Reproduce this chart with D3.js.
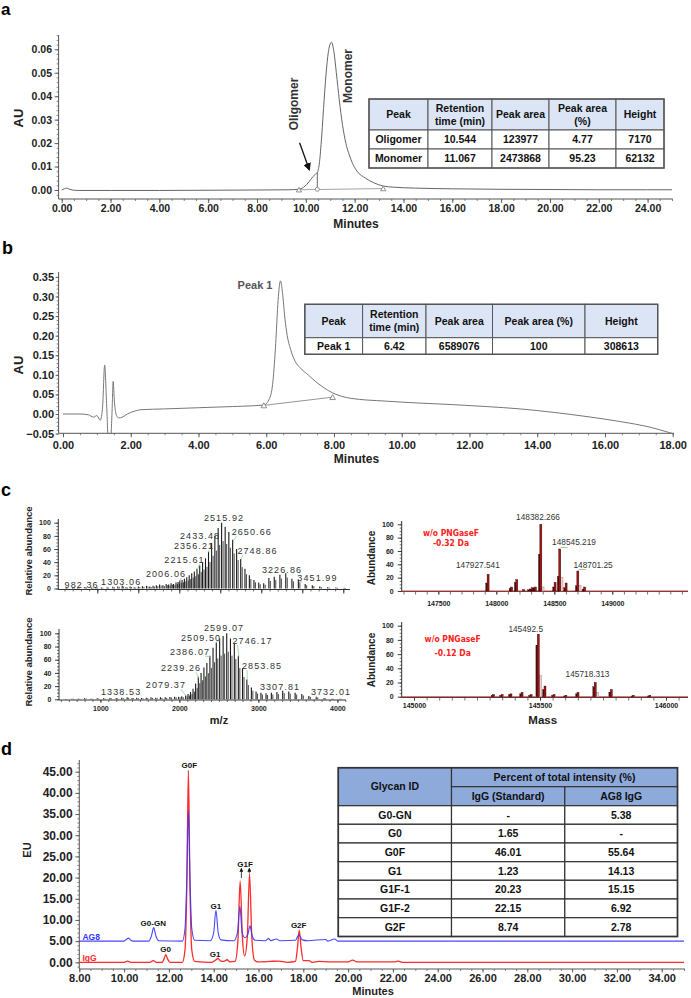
<!DOCTYPE html>
<html><head><meta charset="utf-8">
<script src="https://cdn.jsdelivr.net/npm/d3@7"></script>
<style>body{margin:0;background:#fff}</style>
</head><body><svg id="c" width="691" height="998"></svg>
<script>
// ---------------- DATA ----------------
// Panel a: SEC chromatogram
const aTime = [0,0.1,0.2,0.3,0.45,0.7,2,4,6,8,9.3,9.72,9.9,10.05,10.2,10.3,10.4,10.47,10.55,10.65,10.75,10.85,10.95,11.05,11.15,11.25,11.37,11.5,11.64,11.78,11.91,12.1,12.45,12.8,13.17,13.6,14.5,16,18,20,22,24,25];
const aAU = [0,0.0005,0.0008,0.0004,0,-0.0002,-0.0002,-0.0002,-0.0001,0,0.0001,0.0003,0.0011,0.0025,0.0045,0.0058,0.0068,0.0074,0.0110,0.0230,0.0385,0.0520,0.0605,0.0630,0.0590,0.0500,0.0384,0.0280,0.0199,0.0150,0.0114,0.0080,0.0050,0.0030,0.0017,0.0012,0.0008,0.0005,0.0003,0.0002,0.0001,0.0001,0.0001];
const aMarkTimes = [9.72, 10.47, 13.17];
const aMarkAU = [0.0001, 0.0003, 0.0006];
const aYTicks = [0,0.01,0.02,0.03,0.04,0.05,0.06];
const aXTicks = [0,2,4,6,8,10,12,14,16,18,20,22,24];
const aTableHead = ["Peak","Retention\ntime (min)","Peak area","Peak area\n(%)","Height"];
const aTableRows = [["Oligomer","10.544","123977","4.77","7170"],["Monomer","11.067","2473868","95.23","62132"]];

// Panel b: RP chromatogram
const bTime = [0,0.5,0.75,0.9,1.0,1.1,1.17,1.23,1.29,1.34,1.4,1.45,1.48,1.52,1.58,1.65,1.75,1.9,2.1,2.3,3,4,5,5.6,5.93,6.1,6.2,6.28,6.35,6.42,6.48,6.55,6.62,6.72,6.85,7.0,7.25,7.5,7.96,8.5,9.5,10.5,11.5,12.5,13.5,14.5,15.5,16.5,17.3,18];
const bAU = [0,0,-0.002,-0.008,-0.004,-0.016,0.02,0.125,0.02,-0.07,-0.07,0.01,0.083,0.03,-0.004,-0.01,-0.008,0,0.007,0.011,0.013,0.016,0.019,0.021,0.023,0.04,0.085,0.18,0.29,0.34,0.31,0.245,0.20,0.165,0.135,0.118,0.099,0.080,0.054,0.040,0.033,0.028,0.024,0.019,0.013,0.004,-0.007,-0.02,-0.033,-0.05];
const bMarkTimes = [5.93, 7.96];
const bMarkAU = [0.022, 0.043];
const bYTicks = [-0.05,0,0.05,0.10,0.15,0.20,0.25,0.30,0.35];
const bXTicks = [0,2,4,6,8,10,12,14,16,18];
const bTableHead = ["Peak","Retention\ntime (min)","Peak area","Peak area (%)","Height"];
const bTableRows = [["Peak 1","6.42","6589076","100","308613"]];

// Panel c: mass spectra (charge envelopes, m/z vs relative abundance)
const cTopMz = [620,700,760,850,930,982.4,1050,1120,1190,1250,1303.1,1350,1400,1450,1500,1550,1600,1640,1680,1720,1760,1800,1840,1870,1900,1930,1960,1985,2006.1,2033.6,2061.9,2090.9,2120.7,2151.5,2183.1,2215.6,2249.2,2283.8,2319.4,2356.2,2394.2,2433.5,2474.0,2515.9,2559.3,2604.2,2650.7,2698.8,2748.9,2800.6,2854.5,2910.4,2968.7,3029.2,3092.3,3158.1,3226.9,3298.3,3373.3,3452.0,3535,3622,3713,3810,3910,4010];
const cTopAb = [1,1.5,1,2,1.5,2,1.5,2,2.5,3,4,2,3,2,3,3.5,4,3,4,5,6,5,7,6,8,7,9,10,12,13,15,17,20,23,26,30,35,40,46,56,69,80,92,100,94,86,74,60,45,30,20,13,9,8,16,18,21,23,15,13,7,5,3,2,1.5,1];
const cTopLabels = [982.36,1303.06,2006.06,2215.61,2356.21,2433.48,2515.92,2650.66,2748.86,3226.86,3451.99];
const cBotMz = [560,640,720,800,880,960,1040,1120,1200,1270,1338.5,1400,1460,1520,1580,1640,1700,1760,1820,1880,1940,1990,2030,2079.4,2109.6,2140.6,2172.5,2205.4,2239.3,2274.3,2310.4,2347.6,2386.1,2425.9,2467.0,2509.5,2553.5,2599.1,2646.3,2695.3,2746.2,2798.9,2853.9,2910.9,2970.3,3032.1,3096.6,3163.9,3234.2,3307.8,3384.5,3465.1,3549.6,3638.3,3732.0,3830,3930,4030];
const cBotAb = [0.5,1,1,1.5,1,1.5,1.5,2,2,2.5,3,2,2.5,2,2.5,3,2.5,3,3,3.5,4,4,4.5,6,8,11,16,24,34,40,48,55,66,78,86,92,96,100,92,85,66,47,30,18,12,10,9,10,11,13,12,10,8,5,4,2,1,1];
const cBotLabels = [1338.53,2079.37,2239.26,2386.07,2509.50,2599.07,2746.17,2853.85,3307.81,3732.01];
const cXTicks = [1000,2000,3000,4000];
const cYTicks = [0,20,40,60,80,100];
// deconvoluted masses
const cTRMass = [147927.5,148130,148175,148235,148290,148312,148335,148382.3,148505,148545.2,148600,148701.3,148760];
const cTRAb = [25,6,17,2,3,5,6,100,13,63,12,30,6];
const cTRSub = [12,4,13,0,2,3,4,55,6,22,5,8,3];
const cTRGhost = [0,0,0,0,0,0,0,6,0,20,0,8,0];
const cTRLabels = ["147927.541","148382.266","148545.219","148701.25"];
const cTRXTicks = [147500,148000,148500,149000];
const cBRMass = [145315,145349,145384,145428,145464,145492.5,145519,145555,145602,145650,145718.3,145782,145870,145935];
const cBRAb = [3,3,4,6,3,88,15,3,2,6,20,10,2,2];
const cBRSub = [2,2,3,4,2,72,10,2,1,4,14,6,1,1];
const cBRGhost = [0,0,0,0,0,30,0,0,0,0,6,0,0,0];
const cBRLabels = ["145492.5","145718.313"];
const cBRXTicks = [145000,145500,146000];

// Panel d: glycan profiles
const dIgGTime = [8.0,10.0,10.15,10.3,11.15,11.3,11.45,11.7,11.78,11.86,11.94,12.05,12.6,12.72,12.8,12.87,12.94,13.02,13.15,13.9,14.05,14.2,14.32,14.45,14.6,14.72,14.95,15.08,15.18,15.28,15.38,15.5,15.6,15.7,15.82,16.0,16.5,16.9,17.3,17.65,17.74,17.82,17.9,18.0,18.25,18.4,18.7,19.2,20.0,20.2,20.4,22.1,22.25,22.4,35];
const dIgGEU = [0,0,0.3,0,0,0.4,0,0,0.8,1.8,0.8,0,0,3,18,45.3,18,3,0.2,0,0.4,0.9,0.3,0.2,0.6,0.1,0.2,5,19.2,6,1.5,6,20.9,6,0.5,0.1,0.2,0.3,0,0.2,3.5,7.6,3.5,0.4,0.4,0,0.2,0.1,0.1,0.5,0.1,0.1,0.3,0,0];
const dAG8Time = [8.0,10.0,10.1,10.2,10.3,10.4,11.1,11.22,11.32,11.42,11.55,12.6,12.72,12.8,12.87,12.94,13.02,13.15,13.85,14.0,14.1,14.2,14.32,14.9,15.06,15.17,15.27,15.4,15.52,15.62,15.72,15.85,16.3,16.45,16.55,16.8,16.95,17.65,17.8,17.95,18.2,19.0,19.1,19.4,19.55,35];
const dAG8EU = [5,5,5.4,5.7,5.2,5,5,6.2,8.2,6.2,5.1,5,8,20,36,20,8,5.2,5.1,7,12.3,7,5.3,5.1,7,13.2,7,5.8,6.5,8.6,6.2,5.2,5.1,5.6,5.1,5.5,5.1,5.2,6.5,5.3,5.1,5.4,5,5.5,5,5];
const dPeakNames = ["G0F","G0-GN","G1","G2F","G0","G1","G1F"];
const dPeakTimes = [12.87,11.32,14.1,17.82,11.86,14.2,15.4];
const dPeakEU = [45.3,8.2,12.3,7.6,1.8,0.9,21.5];
const dYTicks = [0,5,10,15,20,25,30,35,40,45];
const dXTicks = [8,10,12,14,16,18,20,22,24,26,28,30,32,34];
const dGlycans = ["G0-GN","G0","G0F","G1","G1F-1","G1F-2","G2F"];
const dIgGPct = ["-","1.65","46.01","1.23","20.23","22.15","8.74"];
const dAG8Pct = ["5.38","-","55.64","14.13","15.15","6.92","2.78"];

// ---------------- DRAWING ----------------
const svg = d3.select("#c");
svg.append("rect").attr("width",691).attr("height",998).attr("fill","#fff");
const FONT = "'Liberation Sans', Arial, Helvetica, sans-serif";
const NARROW = "'Liberation Sans Narrow','Arial Narrow','DejaVu Sans Condensed','Liberation Sans',sans-serif";

function text(x, y, s, o = {}) {
  const t = svg.append("text").attr("x", x).attr("y", y).attr("dy", o.dy ?? "0.35em")
    .attr("text-anchor", o.anchor || "middle")
    .style("font-family", o.family || FONT).style("font-size", (o.fs || 10) + "px")
    .style("font-weight", o.bold ? "bold" : "normal").attr("fill", o.fill || "#222").text(s);
  if (o.ls) t.style("letter-spacing", o.ls + "px");
  return t;
}
function vtext(x, y, s, o = {}) {
  svg.append("text").attr("transform", `translate(${x},${y}) rotate(-90)`).attr("dy", "0.35em")
    .attr("text-anchor", "middle").style("font-family", o.family || FONT).style("font-size", (o.fs || 10) + "px")
    .style("font-weight", o.bold ? "bold" : "normal").attr("fill", o.fill || "#222").text(s);
}
function line(x1, y1, x2, y2, c = "#444", w = 1) {
  return svg.append("line").attr("x1", x1).attr("y1", y1).attr("x2", x2).attr("y2", y2).attr("stroke", c).attr("stroke-width", w);
}
function addAxis(orient, scale, pos, majors, minors, fmt, o) {
  const mk = orient === "bottom" ? d3.axisBottom : d3.axisLeft;
  const tr = orient === "bottom" ? `translate(0,${pos})` : `translate(${pos},0)`;
  const col = o.color || "#555";
  if (minors) {
    const gm = svg.append("g").attr("transform", tr)
      .call(mk(scale).tickValues(minors).tickFormat(() => "").tickSize(o.minorLen ?? 2).tickSizeOuter(0));
    gm.select(".domain").remove();
    gm.selectAll("line").attr("stroke", col).attr("stroke-width", 0.7);
  }
  const g = svg.append("g").attr("transform", tr)
    .call(mk(scale).tickValues(majors).tickFormat(fmt).tickSize(o.majorLen ?? 4).tickPadding(o.pad ?? 2).tickSizeOuter(0));
  g.select(".domain").remove();
  g.selectAll("line").attr("stroke", col).attr("stroke-width", 0.9);
  g.selectAll("text").attr("fill", o.textColor || "#222").style("font-family", o.family || FONT)
    .style("font-size", o.fs + "px").style("font-weight", o.bold === false ? "normal" : "bold");
  if (orient === "bottom") line(o.from, pos, o.to, pos, col, 1);
  else line(pos, o.from, pos, o.to, col, 1);
}
function table(cols, rows, cells, o) {
  const W = cols[cols.length - 1] - cols[0];
  svg.append("rect").attr("x", cols[0]).attr("y", rows[0]).attr("width", W).attr("height", rows[rows.length - 1] - rows[0]).attr("fill", "#fff");
  cells.forEach(c => {
    const x0 = cols[c.c0], x1 = cols[c.c1], y0 = rows[c.r0], y1 = rows[c.r1];
    svg.append("rect").attr("x", x0).attr("y", y0).attr("width", x1 - x0).attr("height", y1 - y0)
      .attr("fill", c.head ? o.headFill : "#fff").attr("stroke", o.stroke).attr("stroke-width", o.sw);
    const lines = c.text.split("\n");
    const cx = (x0 + x1) / 2, cy = (y0 + y1) / 2;
    lines.forEach((s, i) => text(cx, cy + (i - (lines.length - 1) / 2) * o.lh, s, { fs: o.fs, bold: c.head ? true : o.bodyBold, fill: "#111" }));
  });
  svg.append("rect").attr("x", cols[0]).attr("y", rows[0]).attr("width", W).attr("height", rows[rows.length - 1] - rows[0])
    .attr("fill", "none").attr("stroke", o.stroke).attr("stroke-width", o.sw + 0.4);
}
function simpleTable(cols, rows, head, body, o) {
  const cells = [];
  head.forEach((h, j) => cells.push({ r0: 0, r1: 1, c0: j, c1: j + 1, text: h, head: true }));
  body.forEach((r, i) => r.forEach((v, j) => cells.push({ r0: i + 1, r1: i + 2, c0: j, c1: j + 1, text: v })));
  table(cols, rows, cells, o);
}
// panel letters
text(1, 14.5, "a", { fs: 17, bold: true, anchor: "start", dy: 0, fill: "#000" });
text(2, 254, "b", { fs: 18, bold: true, anchor: "start", dy: 0, fill: "#000" });
text(1, 495.5, "c", { fs: 18, bold: true, anchor: "start", dy: 0, fill: "#000" });
text(1, 755, "d", { fs: 18, bold: true, anchor: "start", dy: 0, fill: "#000" });

// ===== Panel a =====
{
  const x = d3.scaleLinear().domain([0, 24]).range([61.7, 647.6]);
  const y = d3.scaleLinear().domain([0, 0.06]).range([190, 49.3]);
  addAxis("left", y, 58.6, aYTicks, d3.range(-0.002, 0.0661, 0.002), d3.format(".2f"), { fs: 10.5, pad: 2.6, from: 35, to: 199 });
  addAxis("bottom", x, 199, aXTicks, d3.range(0, 25.01, 0.5), d3.format(".2f"), { fs: 10.5, pad: 2, from: 58.6, to: 672.7 });
  vtext(18.5, 118, "AU", { fs: 13, bold: true });
  text(356, 224, "Minutes", { fs: 12, bold: true });
  const pts = aTime.map((t, i) => [x(t), y(aAU[i])]);
  line(x(aMarkTimes[0]), y(aMarkAU[0]), x(aMarkTimes[2]), y(aMarkAU[2]), "#999", 0.9);
  svg.append("path").attr("d", d3.line().curve(d3.curveMonotoneX)(pts)).attr("fill", "none").attr("stroke", "#666").attr("stroke-width", 1);
  const iDrop = aTime.indexOf(aMarkTimes[1]);
  line(x(aMarkTimes[1]), y(aMarkAU[1]), x(aMarkTimes[1]), y(aAU[iDrop]), "#666", 1);
  [0, 2].forEach(k => {
    const cx = x(aMarkTimes[k]), cy = y(aMarkAU[k]);
    svg.append("path").attr("d", `M${cx - 2.6},${cy + 2.2}L${cx + 2.6},${cy + 2.2}L${cx},${cy - 2.4}Z`).attr("fill", "#fff").attr("stroke", "#777").attr("stroke-width", 0.8);
  });
  svg.append("circle").attr("cx", x(aMarkTimes[1])).attr("cy", y(aMarkAU[1])).attr("r", 2).attr("fill", "#fff").attr("stroke", "#777").attr("stroke-width", 0.8);
  vtext(294, 104, "Oligomer", { fs: 12, bold: true, fill: "#333" });
  vtext(348, 76, "Monomer", { fs: 12, bold: true, fill: "#333" });
  svg.append("defs").append("marker").attr("id", "ah").attr("viewBox", "0 0 10 10").attr("refX", 8).attr("refY", 5)
    .attr("markerWidth", 6).attr("markerHeight", 6).attr("orient", "auto")
    .append("path").attr("d", "M0,0L10,5L0,10Z").attr("fill", "#111");
  line(299.6, 142.7, 309.2, 169.5, "#111", 1.3).attr("marker-end", "url(#ah)");
  simpleTable([369, 428, 492, 549, 616, 664], [99, 130, 149, 168], aTableHead, aTableRows,
    { headFill: "#dbe5f5", stroke: "#555", sw: 1, fs: 10.5, lh: 13, bodyBold: true });
}

// ===== Panel b =====
{
  const x = d3.scaleLinear().domain([0, 18]).range([63, 672.7]);
  const y = d3.scaleLinear().domain([0, 0.35]).range([414, 276.9]);
  addAxis("left", y, 58.6, bYTicks, d3.range(-0.05, 0.36, 0.01), d3.format(".2f"), { fs: 11, pad: 1.5, majorLen: 3, from: 272, to: 433.3 });
  addAxis("bottom", x, 433.3, bXTicks, d3.range(0, 18.01, 0.5), d3.format(".2f"), { fs: 11, pad: 3.5, from: 58.6, to: 674 });
  vtext(18.5, 365, "AU", { fs: 13, bold: true });
  text(356.5, 459, "Minutes", { fs: 12, bold: true });
  svg.append("clipPath").attr("id", "clipb").append("rect").attr("x", 58.6).attr("y", 265).attr("width", 620).attr("height", 433.3 - 265);
  line(x(bMarkTimes[0]), y(bMarkAU[0]), x(bMarkTimes[1]), y(bMarkAU[1]), "#888", 0.9);
  svg.append("path").attr("clip-path", "url(#clipb)").attr("d", d3.line().curve(d3.curveMonotoneX)(bTime.map((t, i) => [x(t), y(bAU[i])])))
    .attr("fill", "none").attr("stroke", "#777").attr("stroke-width", 1);
  bMarkTimes.forEach((t, k) => {
    const cx = x(t), cy = y(bMarkAU[k]);
    svg.append("path").attr("d", `M${cx - 2.8},${cy + 2.4}L${cx + 2.8},${cy + 2.4}L${cx},${cy - 2.6}Z`).attr("fill", "#fff").attr("stroke", "#777").attr("stroke-width", 0.8);
  });
  text(255, 285, "Peak 1", { fs: 11, bold: true, fill: "#555" });
  simpleTable([304.8, 362.6, 426, 492.5, 585, 657.7], [304.3, 337.7, 354.3], bTableHead, bTableRows,
    { headFill: "#dbe5f5", stroke: "#555", sw: 1, fs: 10.5, lh: 12.4, bodyBold: true });
}

// ===== Panel c: left spectra =====
function leftSpectrum(mz, ab, labels, x, y, yAxisX, axisY, yTop, xFrom, xTo, layout, showX) {
  addAxis("left", y, yAxisX, cYTicks, d3.range(0, 101, 5), d3.format("d"), { fs: 7, pad: 3.5, majorLen: 4, minorLen: 2, from: yTop, to: axisY, color: "#333" });
  addAxis("bottom", x, axisY, showX ? cXTicks : [], d3.range(500, 4201, 100).filter(v => x(v) >= xFrom && x(v) <= xTo), d3.format("d"),
    { fs: 7, pad: 3.2, majorLen: 3, minorLen: 2, from: xFrom, to: xTo, color: "#333" });
  if (!showX) {
    const g = svg.append("g").attr("transform", `translate(0,${axisY})`)
      .call(d3.axisBottom(x).tickValues(d3.range(500, 4201, 500).filter(v => x(v) >= xFrom && x(v) <= xTo)).tickFormat(() => "").tickSize(4).tickSizeOuter(0));
    g.select(".domain").remove(); g.selectAll("line").attr("stroke", "#333");
  }
  mz.forEach((m, i) => {
    const px = x(m);
    line(px, y(0), px, y(ab[i]), "#1a1a1a", 1.1);
    line(px + 1.5, y(0), px + 1.5, y(ab[i] * 0.72), "#333", 0.9);
  });
  labels.forEach((lv, i) => {
    let k = 0; mz.forEach((m, j) => { if (Math.abs(m - lv) < Math.abs(mz[k] - lv)) k = j; });
    const px = x(mz[k]), py = y(ab[k]);
    const [dx, dy] = layout[i];
    const lx = px + dx, ly = py + dy;
    if (Math.abs(dx) > 6) {
      const ex = dx < 0 ? lx + 15 : lx - 15;
      line(ex, ly + 4, px + 0.5, py + 1, "#8fd68f", 0.8);
    }
    text(lx, ly, lv.toFixed(2), { fs: 9, fill: "#333", ls: 1.1 });
  });
}
{
  const xT = d3.scaleLinear().domain([1000, 4000]).range([97.3, 343.3]);
  const yT = d3.scaleLinear().domain([0, 100]).range([588.5, 522.7]);
  const topLayout = [[-14.2, -2.2], [-1, -4], [-13.8, -6.6], [-12.5, -8.8], [-14.5, -5.7], [-14.8, -0.5], [2.4, -4.7], [19.1, -7.8], [16.8, -7.9], [2.1, -4.7], [19.1, -2]];
  leftSpectrum(cTopMz, cTopAb, cTopLabels, xT, yT, 58.3, 589.5, 519, 58.3, 350, topLayout, false);
  vtext(28.3, 551, "Relative abundance", { fs: 9.5, bold: true, fill: "#222" });
  const xB = d3.scaleLinear().domain([1000, 4000]).range([100.4, 337.4]);
  const yB = d3.scaleLinear().domain([0, 100]).range([699.3, 633.3]);
  const botLayout = [[-6, -5], [-19.7, -10.3], [-17.3, -8.6], [-19.9, -3.7], [-18.6, -0.4], [-2.7, -5.2], [14.2, -14.7], [15.2, -13.5], [-2.7, -3.4], [14.8, -4.4]];
  leftSpectrum(cBotMz, cBotAb, cBotLabels, xB, yB, 59, 700, 629, 59, 346, botLayout, true);
  vtext(28.3, 662, "Relative abundance", { fs: 9.5, bold: true, fill: "#222" });
  text(219, 720, "m/z", { fs: 11, bold: true });
}

// ===== Panel c: right deconvoluted spectra =====
function rightSpectrum(mass, ab, sub, ghost, labels, layout, x, y, axisY, yTop, xTicks, minorStep, xPad) {
  addAxis("left", y, 401.7, cYTicks, d3.range(0, 101, 5), d3.format("d"), { fs: 7, pad: 4, majorLen: 4, minorLen: 2, from: yTop, to: axisY, color: "#333" });
  const lo = Math.ceil(x.invert(401.7) / minorStep) * minorStep, hi = x.invert(688);
  addAxis("bottom", x, axisY, xTicks, d3.range(lo, hi, minorStep), d3.format("d"), { fs: 7, pad: xPad, majorLen: 3, minorLen: 3, from: 401.7, to: 688, color: "#333" });
  line(401.7, y(0), 688, y(0), "#d24a4a", 1.1);
  mass.forEach((m, i) => {
    const px = x(m);
    if (ghost[i] > 0) svg.append("rect").attr("x", px + 0.8).attr("y", y(ghost[i])).attr("width", 2.6).attr("height", y(0) - y(ghost[i]))
      .attr("fill", "#d9d9d9").attr("stroke", "#e07070").attr("stroke-width", 0.5);
    if (sub[i] > 0) svg.append("rect").attr("x", px - 2.2).attr("y", y(sub[i])).attr("width", 1.8).attr("height", y(0) - y(sub[i]))
      .attr("fill", "#5a0a0a").attr("stroke", "#2a0000").attr("stroke-width", 0.3);
    svg.append("rect").attr("x", px - 0.8).attr("y", y(ab[i])).attr("width", 2).attr("height", y(0) - y(ab[i]))
      .attr("fill", "#a01515").attr("stroke", "#2a0000").attr("stroke-width", 0.4);
  });
  labels.forEach((s, i) => {
    const m = parseFloat(s);
    let k = 0; mass.forEach((mm, j) => { if (Math.abs(mm - m) < Math.abs(mass[k] - m)) k = j; });
    const px = x(mass[k]), py = y(ab[k]);
    const [dx, dy, lead] = layout[i];
    if (lead) line(px + 1, py - 1.5, px + 8, py - 1.5, "#9fcf8f", 1);
    text(px + dx, py + dy, s, { fs: 8.3, fill: "#333" });
  });
}
{
  const x = d3.scaleLinear().domain([147500, 149000]).range([438.3, 612.3]);
  const y = d3.scaleLinear().domain([0, 100]).range([591, 524.3]);
  rightSpectrum(cTRMass, cTRAb, cTRSub, cTRGhost, cTRLabels, [[-10, -9.3, 0], [-2.6, -7, 0], [14.5, -7.3, 1], [15.4, -6, 1]], x, y, 591.5, 521, cTRXTicks, 100, 6.5);
  vtext(371.7, 558, "Abundance", { fs: 10, bold: true });
  text(451, 532.7, "w/o PNGaseF", { fs: 8.5, bold: true, fill: "#ff2020", family: NARROW });
  text(451, 543.3, "-0.32 Da", { fs: 8.5, bold: true, fill: "#ff2020", family: NARROW });
  const x2 = d3.scaleLinear().domain([145000, 146000]).range([414, 666]);
  const y2 = d3.scaleLinear().domain([0, 100]).range([696.7, 625.7]);
  rightSpectrum(cBRMass, cBRAb, cBRSub, cBRGhost, cBRLabels, [[-12.4, -5, 0], [-7.5, -8, 0]], x2, y2, 697.5, 622, cBRXTicks, 50, 3);
  vtext(371, 660, "Abundance", { fs: 10, bold: true });
  text(452.7, 639.3, "w/o PNGaseF", { fs: 8.5, bold: true, fill: "#ff2020", family: NARROW });
  text(452.7, 653.3, "-0.12 Da", { fs: 8.5, bold: true, fill: "#ff2020", family: NARROW });
  text(542.7, 720, "Mass", { fs: 11.5, bold: true });
}

// ===== Panel d =====
{
  const x = d3.scaleLinear().domain([8, 34]).range([79.3, 661.7]);
  const y = d3.scaleLinear().domain([0, 45]).range([962.3, 771.7]);
  addAxis("left", y, 79.3, dYTicks, d3.range(-1, 48, 1), d3.format(".2f"), { fs: 12, pad: 2.6, from: 760, to: 969 });
  addAxis("bottom", x, 969, dXTicks, d3.range(8, 35.01, 0.5), d3.format(".2f"), { fs: 11, pad: 1.5, majorLen: 3.5, from: 79.3, to: 685 });
  vtext(27.3, 850, "EU", { fs: 11, bold: true });
  text(373, 991.5, "Minutes", { fs: 11, bold: true });
  const ln = d3.line().curve(d3.curveMonotoneX);
  svg.append("path").attr("d", ln(dIgGTime.map((t, i) => [x(t), y(dIgGEU[i])]))).attr("fill", "none").attr("stroke", "#ff2a2a").attr("stroke-width", 1.3);
  svg.append("path").attr("d", ln(dAG8Time.map((t, i) => [x(t), y(dAG8EU[i])]))).attr("fill", "none").attr("stroke", "#3434ff").attr("stroke-width", 1.1).attr("opacity", 0.9);
  const offs = [[1, -5], [-0.4, -4], [0, -4], [-0.6, -5], [-0.2, -5], [-3, -4.5], [0, -7]];
  dPeakNames.forEach((n, i) => text(x(dPeakTimes[i]) + offs[i][0], y(dPeakEU[i]) + offs[i][1], n, { fs: 8, bold: true, fill: "#111" }));
  svg.append("defs").append("marker").attr("id", "ah2").attr("viewBox", "0 0 10 10").attr("refX", 8).attr("refY", 5)
    .attr("markerWidth", 5).attr("markerHeight", 5).attr("orient", "auto")
    .append("path").attr("d", "M0,0L10,5L0,10Z").attr("fill", "#111");
  line(241.4, 878, 241.4, 868.5, "#111", 0.8).attr("marker-end", "url(#ah2)");
  line(249.3, 873, 249.3, 868.5, "#111", 0.8).attr("marker-end", "url(#ah2)");
  text(82.4, 937.3, "AG8", { fs: 8.5, bold: true, fill: "#3434ff", anchor: "start" });
  text(82.4, 958.3, "IgG", { fs: 8.5, bold: true, fill: "#ff2a2a", anchor: "start" });
  const tcols = [338.3, 451.5, 564.8, 677.5];
  const trows = [767.7, 786.7, 805.7, 824.3, 843, 861.7, 880.3, 899, 917.7, 936.5];
  const cells = [
    { r0: 0, r1: 2, c0: 0, c1: 1, text: "Glycan ID", head: true },
    { r0: 0, r1: 1, c0: 1, c1: 3, text: "Percent of total intensity (%)", head: true },
    { r0: 1, r1: 2, c0: 1, c1: 2, text: "IgG (Standard)", head: true },
    { r0: 1, r1: 2, c0: 2, c1: 3, text: "AG8 IgG", head: true }];
  dGlycans.forEach((g, i) => {
    cells.push({ r0: i + 2, r1: i + 3, c0: 0, c1: 1, text: g });
    cells.push({ r0: i + 2, r1: i + 3, c0: 1, c1: 2, text: dIgGPct[i] });
    cells.push({ r0: i + 2, r1: i + 3, c0: 2, c1: 3, text: dAG8Pct[i] });
  });
  table(tcols, trows, cells, { headFill: "#8eaadb", stroke: "#333", sw: 1.2, fs: 10.5, lh: 12, bodyBold: true });
}
</script></body></html>
